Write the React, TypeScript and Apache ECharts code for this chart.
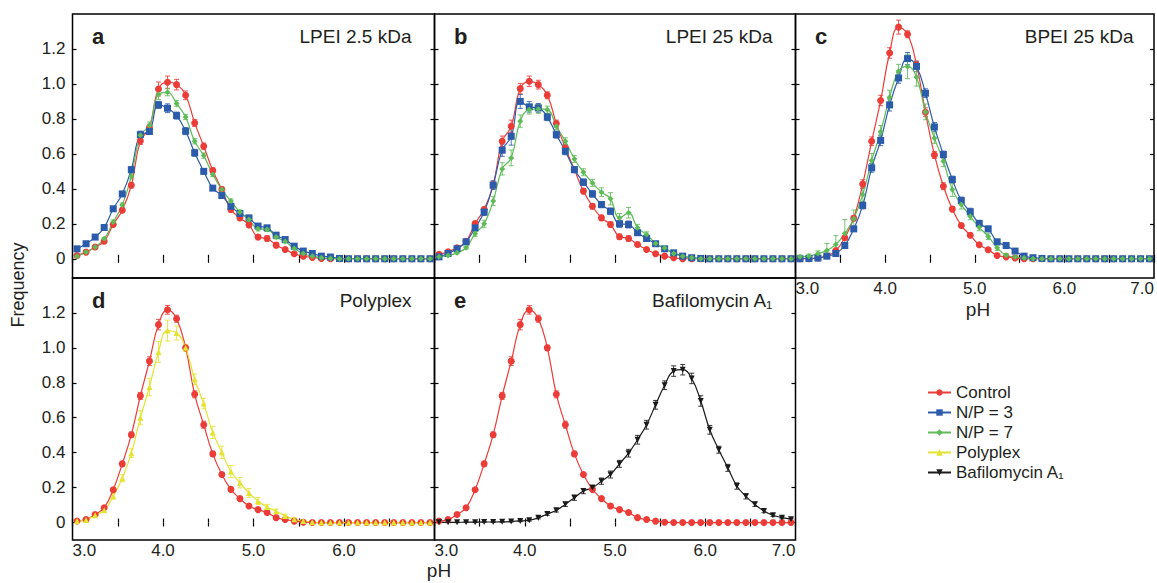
import React, { useEffect, useRef } from "react";
import * as echarts from "echarts";

// pH bin centres (x values)
const pH = [3.05, 3.15, 3.25, 3.35, 3.45, 3.55, 3.65, 3.75, 3.85, 3.95, 4.05, 4.15, 4.25, 4.35, 4.45, 4.55, 4.65, 4.75, 4.85, 4.95, 5.05, 5.15, 5.25, 5.35, 5.45, 5.55, 5.65, 5.75, 5.85, 5.95, 6.05, 6.15, 6.25, 6.35, 6.45, 6.55, 6.65, 6.75, 6.85, 6.95];

const yTickValues = [0, 0.2, 0.4, 0.6, 0.8, 1.0, 1.2];

// Panel a: LPEI 2.5 kDa
const aControl = [0.019, 0.038, 0.067, 0.1, 0.196, 0.278, 0.42, 0.674, 0.75, 0.971, 1.01, 0.996, 0.935, 0.777, 0.644, 0.505, 0.396, 0.282, 0.234, 0.194, 0.124, 0.116, 0.078, 0.053, 0.029, 0.015, 0.008, 0.002, 0, 0, 0, 0, 0, 0, 0, 0, 0, 0, 0, 0];
const aNP3 = [0.057, 0.086, 0.124, 0.179, 0.286, 0.371, 0.51, 0.71, 0.728, 0.88, 0.861, 0.819, 0.73, 0.606, 0.5, 0.404, 0.362, 0.3, 0.259, 0.234, 0.187, 0.177, 0.135, 0.11, 0.072, 0.044, 0.03, 0.015, 0.01, 0.002, 0, 0, 0, 0, 0, 0, 0, 0, 0, 0];
const aNP7 = [0.015, 0.038, 0.067, 0.114, 0.21, 0.307, 0.472, 0.707, 0.762, 0.94, 0.952, 0.888, 0.811, 0.672, 0.59, 0.482, 0.396, 0.33, 0.267, 0.225, 0.171, 0.168, 0.124, 0.099, 0.059, 0.03, 0.015, 0.006, 0.002, 0, 0, 0, 0, 0, 0, 0, 0, 0, 0, 0];
const aControlErr = [0.004, 0.005, 0.006, 0.008, 0.01, 0.012, 0.015, 0.02, 0.02, 0.04, 0.035, 0.03, 0.025, 0.02, 0.018, 0.015, 0.015, 0.015, 0.015, 0.015, 0.015, 0.015, 0.015, 0.01, 0.008, 0.006, 0.004, 0.003, 0.002, 0.002, 0, 0, 0, 0, 0, 0, 0, 0, 0, 0];
const aNP3Err = [0.008, 0.008, 0.01, 0.01, 0.012, 0.012, 0.015, 0.02, 0.015, 0.02, 0.025, 0.02, 0.02, 0.02, 0.015, 0.012, 0.012, 0.012, 0.012, 0.012, 0.012, 0.012, 0.01, 0.008, 0.006, 0.005, 0.004, 0.003, 0.002, 0.002, 0, 0, 0, 0, 0, 0, 0, 0, 0, 0];
const aNP7Err = [0.004, 0.005, 0.006, 0.008, 0.012, 0.012, 0.015, 0.02, 0.02, 0.03, 0.02, 0.018, 0.015, 0.015, 0.015, 0.012, 0.012, 0.012, 0.012, 0.012, 0.012, 0.012, 0.01, 0.008, 0.006, 0.005, 0.004, 0.003, 0.002, 0.002, 0, 0, 0, 0, 0, 0, 0, 0, 0, 0];

// Panel b: LPEI 25 kDa
const bControl = [0.025, 0.04, 0.063, 0.1, 0.202, 0.282, 0.423, 0.672, 0.758, 0.973, 1.015, 0.996, 0.935, 0.773, 0.634, 0.51, 0.387, 0.3, 0.234, 0.196, 0.126, 0.116, 0.082, 0.053, 0.029, 0.015, 0.006, 0, 0, 0, 0, 0, 0, 0, 0, 0, 0, 0, 0, 0];
const bNP3 = [0.011, 0.03, 0.057, 0.097, 0.177, 0.267, 0.421, 0.621, 0.7, 0.9, 0.869, 0.863, 0.81, 0.71, 0.615, 0.51, 0.438, 0.371, 0.31, 0.272, 0.2, 0.196, 0.149, 0.116, 0.086, 0.057, 0.034, 0.015, 0.006, 0.002, 0, 0, 0, 0, 0, 0, 0, 0, 0, 0];
const bNP7 = [0.011, 0.019, 0.034, 0.063, 0.143, 0.2, 0.33, 0.514, 0.577, 0.787, 0.853, 0.857, 0.853, 0.758, 0.672, 0.571, 0.495, 0.434, 0.381, 0.343, 0.234, 0.263, 0.177, 0.139, 0.088, 0.061, 0.03, 0.015, 0.006, 0, 0, 0, 0, 0, 0, 0, 0, 0, 0, 0];
const bControlErr = [0.005, 0.006, 0.006, 0.008, 0.012, 0.015, 0.02, 0.03, 0.035, 0.03, 0.03, 0.025, 0.02, 0.02, 0.018, 0.015, 0.015, 0.015, 0.015, 0.015, 0.015, 0.015, 0.012, 0.01, 0.008, 0.006, 0.004, 0.003, 0.002, 0.002, 0, 0, 0, 0, 0, 0, 0, 0, 0, 0];
const bNP3Err = [0.004, 0.006, 0.008, 0.01, 0.012, 0.02, 0.025, 0.035, 0.05, 0.04, 0.03, 0.025, 0.02, 0.02, 0.02, 0.018, 0.018, 0.018, 0.018, 0.018, 0.02, 0.02, 0.015, 0.012, 0.01, 0.008, 0.005, 0.004, 0.002, 0.002, 0, 0, 0, 0, 0, 0, 0, 0, 0, 0];
const bNP7Err = [0.004, 0.005, 0.006, 0.008, 0.015, 0.02, 0.025, 0.035, 0.045, 0.035, 0.025, 0.025, 0.02, 0.02, 0.02, 0.02, 0.02, 0.02, 0.025, 0.035, 0.025, 0.03, 0.02, 0.015, 0.012, 0.008, 0.005, 0.004, 0.002, 0.002, 0, 0, 0, 0, 0, 0, 0, 0, 0, 0];

// Panel c: BPEI 25 kDa
const cControl = [0, 0, 0.005, 0.017, 0.047, 0.12, 0.232, 0.427, 0.672, 0.905, 1.177, 1.325, 1.284, 1.11, 0.838, 0.594, 0.415, 0.284, 0.19, 0.135, 0.08, 0.052, 0.019, 0.011, 0.004, 0, 0, 0, 0, 0, 0, 0, 0, 0, 0, 0, 0, 0, 0, 0];
const cNP3 = [0, 0.002, 0.004, 0.015, 0.03, 0.076, 0.171, 0.305, 0.52, 0.677, 0.88, 1.034, 1.145, 1.1, 0.947, 0.754, 0.596, 0.453, 0.333, 0.269, 0.202, 0.171, 0.097, 0.076, 0.044, 0.015, 0.006, 0.002, 0, 0, 0, 0, 0, 0, 0, 0, 0, 0, 0, 0];
const cNP7 = [0.011, 0.015, 0.03, 0.047, 0.082, 0.145, 0.229, 0.367, 0.562, 0.727, 0.924, 1.072, 1.1, 1.038, 0.84, 0.69, 0.558, 0.396, 0.31, 0.243, 0.18, 0.128, 0.063, 0.02, 0.01, 0.004, 0, 0, 0, 0, 0, 0, 0, 0, 0, 0, 0, 0, 0, 0];
const cControlErr = [0.004, 0.004, 0.005, 0.006, 0.008, 0.012, 0.015, 0.025, 0.025, 0.03, 0.03, 0.04, 0.02, 0.02, 0.025, 0.02, 0.02, 0.015, 0.012, 0.012, 0.01, 0.008, 0.006, 0.005, 0.004, 0.003, 0.002, 0.002, 0.002, 0.002, 0, 0, 0, 0, 0, 0, 0, 0, 0, 0];
const cNP3Err = [0.004, 0.004, 0.005, 0.006, 0.008, 0.012, 0.015, 0.02, 0.025, 0.03, 0.035, 0.03, 0.035, 0.03, 0.025, 0.025, 0.02, 0.02, 0.02, 0.02, 0.018, 0.015, 0.012, 0.01, 0.008, 0.006, 0.004, 0.003, 0.002, 0.002, 0, 0, 0, 0, 0, 0, 0, 0, 0, 0];
const cNP7Err = [0.01, 0.012, 0.015, 0.04, 0.05, 0.08, 0.05, 0.04, 0.04, 0.035, 0.04, 0.04, 0.07, 0.05, 0.045, 0.03, 0.03, 0.04, 0.025, 0.02, 0.02, 0.018, 0.015, 0.01, 0.008, 0.006, 0.004, 0.003, 0.002, 0.002, 0, 0, 0, 0, 0, 0, 0, 0, 0, 0];

// Panels d and e
const deControl = [0.009, 0.017, 0.046, 0.085, 0.188, 0.336, 0.503, 0.725, 0.924, 1.133, 1.218, 1.167, 1.0, 0.734, 0.56, 0.393, 0.275, 0.19, 0.137, 0.095, 0.074, 0.057, 0.028, 0.017, 0.008, 0.002, 0, 0, 0, 0, 0, 0, 0, 0, 0, 0, 0, 0, 0, 0];
const dPolyplex = [0.009, 0.015, 0.042, 0.07, 0.15, 0.254, 0.397, 0.6, 0.776, 0.977, 1.099, 1.085, 1.0, 0.82, 0.681, 0.516, 0.402, 0.292, 0.228, 0.169, 0.123, 0.089, 0.065, 0.038, 0.019, 0.009, 0.002, 0, 0, 0, 0, 0, 0, 0, 0, 0, 0, 0, 0, 0];
const eBafilomycin = [0.001, 0.001, 0.001, 0.002, 0.002, 0.003, 0.003, 0.004, 0.006, 0.009, 0.013, 0.027, 0.049, 0.07, 0.104, 0.142, 0.18, 0.199, 0.237, 0.275, 0.336, 0.397, 0.474, 0.56, 0.674, 0.786, 0.867, 0.875, 0.825, 0.696, 0.531, 0.417, 0.313, 0.209, 0.15, 0.104, 0.066, 0.042, 0.028, 0.019];
const deControlErr = [0.004, 0.005, 0.006, 0.008, 0.01, 0.015, 0.015, 0.02, 0.025, 0.03, 0.025, 0.02, 0.015, 0.02, 0.02, 0.015, 0.012, 0.012, 0.01, 0.01, 0.008, 0.008, 0.006, 0.005, 0.004, 0.003, 0.002, 0.002, 0.002, 0.002, 0, 0, 0, 0, 0, 0, 0, 0, 0, 0];
const dPolyplexErr = [0.005, 0.006, 0.008, 0.01, 0.015, 0.02, 0.025, 0.04, 0.05, 0.06, 0.06, 0.04, 0.02, 0.03, 0.03, 0.035, 0.035, 0.035, 0.03, 0.025, 0.02, 0.015, 0.012, 0.01, 0.008, 0.006, 0.004, 0.003, 0.002, 0.002, 0, 0, 0, 0, 0, 0, 0, 0, 0, 0];
const eBafilomycinErr = [0.002, 0.002, 0.002, 0.002, 0.002, 0.002, 0.002, 0.002, 0.003, 0.004, 0.005, 0.006, 0.008, 0.01, 0.012, 0.015, 0.015, 0.015, 0.018, 0.02, 0.02, 0.022, 0.025, 0.025, 0.025, 0.025, 0.03, 0.03, 0.03, 0.03, 0.025, 0.02, 0.02, 0.018, 0.015, 0.012, 0.01, 0.008, 0.006, 0.005];

const legendNames = ["Control", "N/P = 3", "N/P = 7", "Polyplex", "Bafilomycin A₁"];

const FONT = "'Liberation Sans', Arial, Helvetica, sans-serif";
const TEXT = "#231f20";

const STYLE: Record<string, { color: string; symbol: string; size: number; rotate: number }> = {
  "Control": { color: "#ec3c38", symbol: "circle", size: 7, rotate: 0 },
  "N/P = 3": { color: "#2b5cab", symbol: "rect", size: 7, rotate: 0 },
  "N/P = 7": { color: "#5fbb58", symbol: "diamond", size: 6, rotate: 0 },
  "Polyplex": { color: "#e3e331", symbol: "triangle", size: 6, rotate: 0 },
  "Bafilomycin A₁": { color: "#1a1a1a", symbol: "triangle", size: 6, rotate: 180 },
};

const panels = [
  { letter: "a", title: "LPEI 2.5 kDa", row: 0, col: 0, yLabels: true, xLabels: false, hideMax: false,
    lines: [["Control", aControl, aControlErr], ["N/P = 3", aNP3, aNP3Err], ["N/P = 7", aNP7, aNP7Err]] },
  { letter: "b", title: "LPEI 25 kDa", row: 0, col: 1, yLabels: false, xLabels: false, hideMax: false,
    lines: [["Control", bControl, bControlErr], ["N/P = 3", bNP3, bNP3Err], ["N/P = 7", bNP7, bNP7Err]] },
  { letter: "c", title: "BPEI 25 kDa", row: 0, col: 2, yLabels: false, xLabels: true, hideMax: false,
    lines: [["Control", cControl, cControlErr], ["N/P = 3", cNP3, cNP3Err], ["N/P = 7", cNP7, cNP7Err]] },
  { letter: "d", title: "Polyplex", row: 1, col: 0, yLabels: true, xLabels: true, hideMax: true,
    lines: [["Control", deControl, deControlErr], ["Polyplex", dPolyplex, dPolyplexErr]] },
  { letter: "e", title: "Bafilomycin A₁", row: 1, col: 1, yLabels: false, xLabels: true, hideMax: false,
    lines: [["Control", deControl, deControlErr], ["Bafilomycin A₁", eBafilomycin, eBafilomycinErr]] },
];

const colLeft = [72.5, 434.5, 795.5];
const colWidth = [362, 361, 361];
const rowTop = [14, 278];
const rowHeight = [264, 262];
const rowYMin = [-0.11, -0.1];

function buildOption() {
  const grid: any[] = [];
  const xAxis: any[] = [];
  const yAxis: any[] = [];
  const series: any[] = [];
  const graphic: any[] = [];
  const tick = { show: true, inside: true, length: 4, lineStyle: { color: "#000", width: 1.2 } };

  panels.forEach((p, i) => {
    grid.push({
      left: colLeft[p.col], top: rowTop[p.row], width: colWidth[p.col], height: rowHeight[p.row],
      show: true, borderColor: "#000", borderWidth: 1.5, backgroundColor: "transparent",
    });
    const xBase = {
      type: "value", gridIndex: i, min: 3, max: 7, interval: 0.5,
      axisLine: { show: false }, splitLine: { show: false }, axisTick: tick,
    };
    xAxis.push({
      ...xBase, position: "bottom",
      axisLabel: {
        show: p.xLabels, margin: 2, fontSize: 17, fontFamily: FONT, color: TEXT,
        alignMinLabel: "left", alignMaxLabel: "right",
        formatter: (v: number) => {
          const r = Math.round(v * 2) / 2;
          if (Math.abs(r - Math.round(r)) > 1e-6) return "";
          if (p.hideMax && Math.round(r) === 7) return "";
          return r.toFixed(1);
        },
      },
    });
    xAxis.push({ ...xBase, position: "top", axisLabel: { show: false } });
    const yBase = {
      type: "value", gridIndex: i, min: rowYMin[p.row], max: 1.4,
      axisLine: { show: false }, splitLine: { show: false },
      axisTick: { ...tick, customValues: yTickValues },
    };
    yAxis.push({
      ...yBase, position: "left",
      axisLabel: {
        show: p.yLabels, customValues: yTickValues, margin: 7, fontSize: 17, fontFamily: FONT, color: TEXT,
        formatter: (v: number) => (Math.abs(v) < 1e-9 ? "0" : v.toFixed(1)),
      },
    });
    yAxis.push({ ...yBase, position: "right", axisLabel: { show: false } });

    p.lines.forEach((ln: any) => {
      const name = ln[0] as string;
      const vals = ln[1] as number[];
      const errs = ln[2] as number[];
      const st = STYLE[name];
      series.push({
        type: "custom", xAxisIndex: 2 * i, yAxisIndex: 2 * i, z: 2, silent: true,
        data: pH.map((x, k) => [x, vals[k], errs[k]]),
        encode: { x: 0, y: 1 },
        renderItem: (_params: any, api: any) => {
          const x = api.value(0), y = api.value(1), e = api.value(2);
          if (!(e > 0)) return null;
          const p1 = api.coord([x, y + e]);
          const p2 = api.coord([x, y - e]);
          const hw = 2.5;
          const s = { stroke: st.color, lineWidth: 1, opacity: 0.85 };
          return {
            type: "group",
            children: [
              { type: "line", shape: { x1: p1[0], y1: p1[1], x2: p2[0], y2: p2[1] }, style: s },
              { type: "line", shape: { x1: p1[0] - hw, y1: p1[1], x2: p1[0] + hw, y2: p1[1] }, style: s },
              { type: "line", shape: { x1: p2[0] - hw, y1: p2[1], x2: p2[0] + hw, y2: p2[1] }, style: s },
            ],
          };
        },
      });
      series.push({
        type: "line", name, xAxisIndex: 2 * i, yAxisIndex: 2 * i, z: 3,
        data: pH.map((x, k) => [x, vals[k]]),
        smooth: 0.45,
        symbol: st.symbol, symbolSize: st.size, symbolRotate: st.rotate,
        lineStyle: { color: st.color, width: 1.2 },
        itemStyle: { color: st.color },
        emphasis: { disabled: true },
      });
    });

    const left = colLeft[p.col];
    const right = left + colWidth[p.col];
    const top = rowTop[p.row];
    graphic.push({
      type: "text", x: left + 19.5, y: top + 22, z: 100,
      style: { text: p.letter, fontSize: 22, fontWeight: "bold", fontFamily: FONT, fill: TEXT, align: "left", verticalAlign: "middle" },
    });
    graphic.push({
      type: "text", x: right - 23, y: top + 22.5, z: 100,
      style: { text: p.title, fontSize: 19, fontFamily: FONT, fill: TEXT, align: "right", verticalAlign: "middle" },
    });
  });

  graphic.push({
    type: "text", x: 978, y: 309, z: 100,
    style: { text: "pH", fontSize: 19, fontFamily: FONT, fill: TEXT, align: "center", verticalAlign: "middle" },
  });
  graphic.push({
    type: "text", x: 439, y: 570, z: 100,
    style: { text: "pH", fontSize: 19, fontFamily: FONT, fill: TEXT, align: "center", verticalAlign: "middle" },
  });
  graphic.push({
    type: "text", x: 18, y: 285, rotation: Math.PI / 2, z: 100,
    style: { text: "Frequency", fontSize: 18, fontFamily: FONT, fill: TEXT, align: "center", verticalAlign: "middle" },
  });

  return {
    animation: false,
    backgroundColor: "#ffffff",
    grid, xAxis, yAxis, series, graphic,
    legend: {
      data: legendNames, orient: "vertical", left: 922, top: 379,
      itemWidth: 23, itemHeight: 8, itemGap: 3, selectedMode: false,
      textStyle: { fontSize: 17, fontFamily: FONT, color: TEXT },
    },
  };
}

export default function App() {
  const ref = useRef<HTMLDivElement>(null);
  useEffect(() => {
    if (!ref.current) return;
    const chart = echarts.init(ref.current, undefined, { renderer: "svg" });
    chart.setOption(buildOption() as any);
    return () => chart.dispose();
  }, []);
  return <div ref={ref} style={{ position: "absolute", left: 0, top: 0, width: 1157, height: 583 }} />;
}
